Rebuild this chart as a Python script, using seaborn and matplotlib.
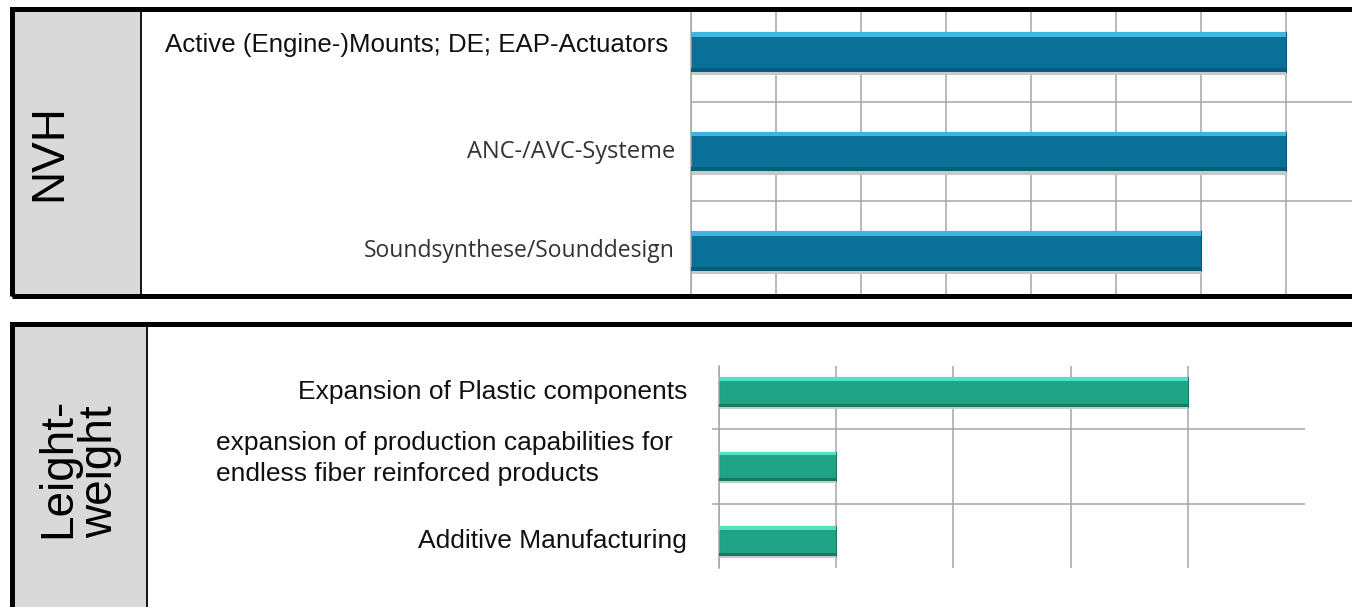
import matplotlib
matplotlib.use("Agg")
import matplotlib.pyplot as plt
from matplotlib.patches import Rectangle
from matplotlib.lines import Line2D
import seaborn as sns

# data
nvh_items = ["Active (Engine-)Mounts; DE; EAP-Actuators", "ANC-/AVC-Systeme", "Soundsynthese/Sounddesign"]
nvh_values = [7, 7, 6]
lw_items = ["Expansion of Plastic components",
            "expansion of production capabilities for\nendless fiber reinforced products",
            "Additive Manufacturing"]
lw_values = [4, 1, 1]

sns.set_style("white")
plt.rcParams['font.family'] = ['Liberation Sans', 'DejaVu Sans']

W, H = 1352, 607
fig = plt.figure(figsize=(W / 100, H / 100), dpi=100)


def rect(l, t, r, b):
    return [l / W, 1 - b / H, (r - l) / W, (b - t) / H]


def fx(x):
    return x / W


def fy(y):
    return 1 - y / H


GRID = '#a6a6a6'


def style_axis(ax, xmax, ticks, ylim, tick_len):
    ax.set_xlim(0, xmax)
    ax.set_ylim(*ylim)
    ax.set_xticks(ticks)
    ax.set_yticks([0.5, 1.5], minor=True)
    ax.grid(axis='x', which='major', color=GRID, lw=1.1)
    ax.grid(axis='y', which='minor', color=GRID, lw=1.1)
    ax.set_axisbelow(True)
    ax.tick_params(axis='both', which='major', length=0, labelleft=False, labelbottom=False)
    ax.tick_params(axis='y', which='minor', left=True, length=tick_len, color=GRID, width=1.1)
    for s in ['top', 'right', 'bottom']:
        ax.spines[s].set_visible(False)
    ax.spines['left'].set_color(GRID)
    ax.spines['left'].set_linewidth(1.1)
    ax.set_xlabel('')
    ax.set_ylabel('')


def shade_bars(ax, light, dark):
    for p in list(ax.patches):
        x0, y0, w, h = p.get_x(), p.get_y(), p.get_width(), p.get_height()
        # soft shadow under the bar
        ax.add_patch(Rectangle((x0, y0 + h), w, h * 0.08, color='#c8c8c8', lw=0, zorder=2.5))
        ax.add_patch(Rectangle((x0, y0), w, h * 0.12, color=light, lw=0, zorder=3))
        ax.add_patch(Rectangle((x0, y0 + h * 0.9), w, h * 0.1, color=dark, lw=0, zorder=3))


# --- NVH panel ---
ax1 = fig.add_axes(rect(691, 8, 1352, 297))
sns.barplot(x=nvh_values, y=nvh_items, orient='h', color='#0b7098', saturation=1,
            width=0.4, ax=ax1, edgecolor='#075a7a', linewidth=0.8)
style_axis(ax1, 661 / 85, range(0, 8), (2.462, -0.442), 0)
shade_bars(ax1, '#3fb6df', '#075d7e')

top_fonts = [('Liberation Sans', '#111111', 18.6), ('Open Sans', '#333333', 17),
             ('Open Sans', '#333333', 16.5)]
top_offsets = [(-23, 7), (-16, 0), (-16, 0)]
for i, (lab, (fam, col, fs), off) in enumerate(zip(nvh_items, top_fonts, top_offsets)):
    ax1.annotate(lab, xy=(0, i), xycoords=('axes fraction', 'data'), xytext=off,
                 textcoords='offset pixels', ha='right', va='center', fontsize=fs,
                 family=[fam, 'DejaVu Sans'], color=col, annotation_clip=False)

# --- Lightweight panel ---
ax2 = fig.add_axes(rect(719, 366, 1305, 568))
sns.barplot(x=lw_values, y=lw_items, orient='h', color='#1ea384', saturation=1,
            width=0.39, ax=ax2, edgecolor='#177a62', linewidth=0.8)
style_axis(ax2, 5, range(0, 5), (2.362, -0.349), 5)
shade_bars(ax2, '#52e2c2', '#167a63')

bot_offsets = [(-32, 0), (-46, 8), (-32, 0)]
for i, (lab, off) in enumerate(zip(lw_items, bot_offsets)):
    ax2.annotate(lab, xy=(0, i), xycoords=('axes fraction', 'data'), xytext=off,
                 textcoords='offset pixels', ha='right', va='center', fontsize=19,
                 multialignment='left', linespacing=1.32, color='#111111',
                 annotation_clip=False)

# --- frames and side labels ---
lw_frame = 5 * 72 / 100
fig.add_artist(Rectangle((fx(11.5), fy(295.5)), fx(141) - fx(11.5), fy(9.5) - fy(295.5),
                         transform=fig.transFigure, facecolor='#d9d9d9', edgecolor='none', zorder=2))
fig.add_artist(Line2D([fx(141), fx(141)], [fy(9.5), fy(295.5)], transform=fig.transFigure,
                      color='black', lw=1.3, zorder=3))
fig.add_artist(Rectangle((fx(11.5), fy(295.5)), fx(1400) - fx(11.5), fy(9.5) - fy(295.5),
                         transform=fig.transFigure, facecolor='none', edgecolor='black',
                         lw=lw_frame, zorder=4))

fig.add_artist(Rectangle((fx(11.5), fy(640)), fx(147) - fx(11.5), fy(323.5) - fy(640),
                         transform=fig.transFigure, facecolor='#d9d9d9', edgecolor='none', zorder=2))
fig.add_artist(Line2D([fx(147), fx(147)], [fy(323.5), fy(640)], transform=fig.transFigure,
                      color='black', lw=1.3, zorder=3))
fig.add_artist(Rectangle((fx(11.5), fy(640)), fx(1400) - fx(11.5), fy(323.5) - fy(640),
                         transform=fig.transFigure, facecolor='none', edgecolor='black',
                         lw=lw_frame, zorder=4))

fig.text(fx(49), fy(153), "NVH", rotation=90, ha='center', va='center', fontsize=33, color='black')
fig.text(fx(79), fy(468), "Leight-\nweight", rotation=90, ha='center', va='center',
         multialignment='left', fontsize=33, linespacing=0.95, color='black')

fig.savefig("out.png", dpi=100)
